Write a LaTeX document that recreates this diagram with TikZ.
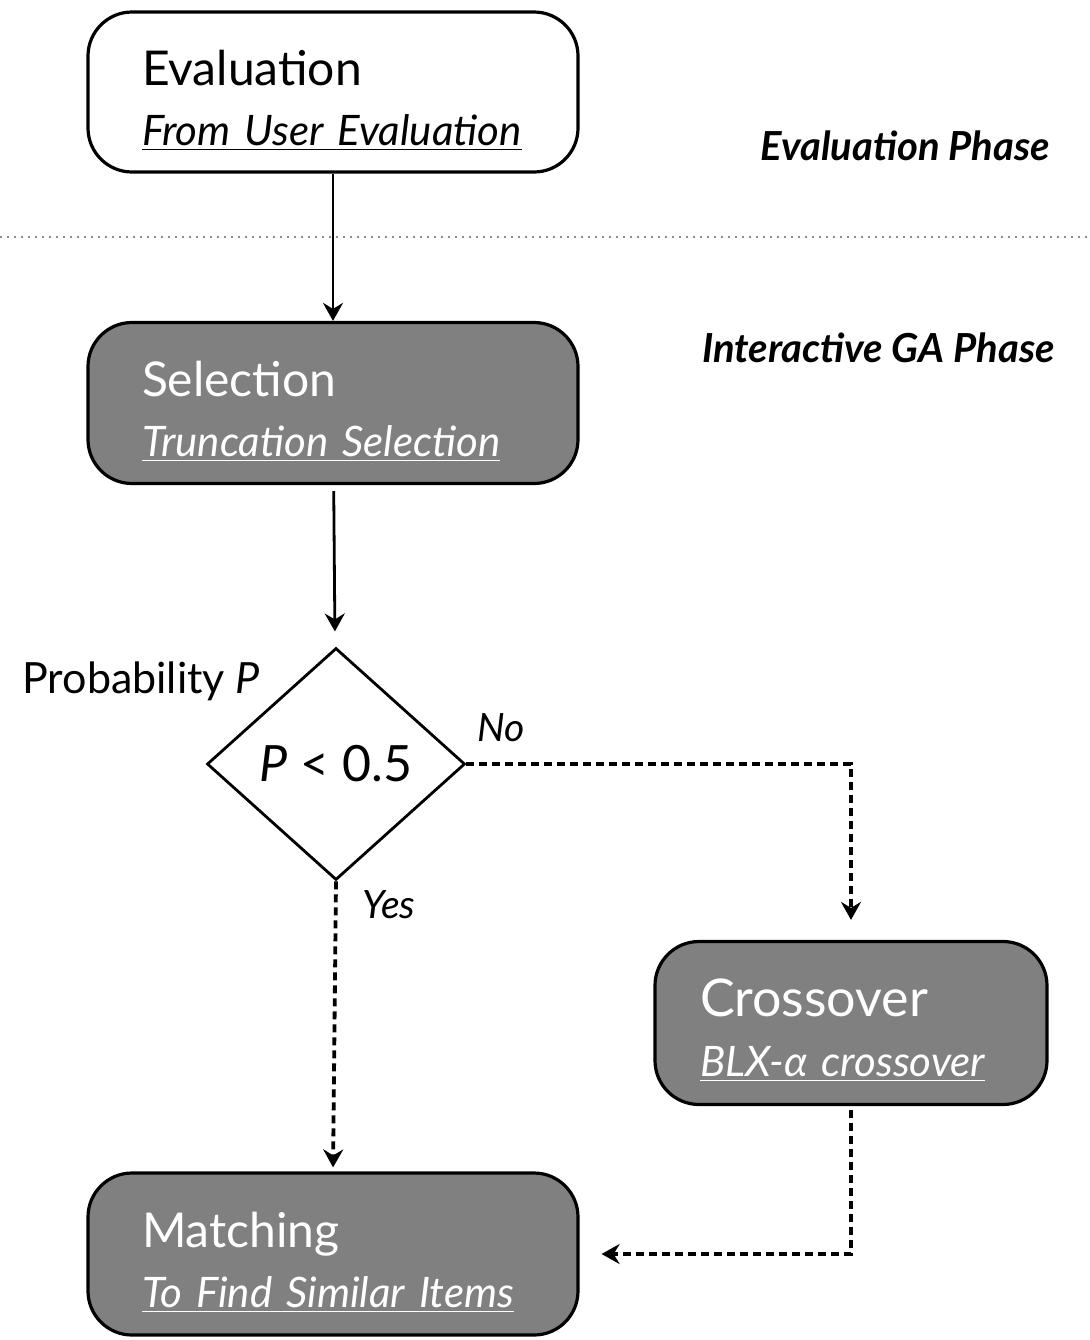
\documentclass[tikz,border=0pt]{standalone}
\usepackage{fontspec}
\setmainfont{Lato}
\usetikzlibrary{arrows.meta,positioning,shapes.geometric}
\definecolor{sgray}{HTML}{808080}
\definecolor{sepgray}{HTML}{8C8C8C}
\tikzset{
  % Rounded stage box, title plus underlined italic subtitle.
  stage/.style  = {rectangle, rounded corners=22pt, draw=black, line width=1.6pt, fill=#1,
                   align=left, inner ysep=0pt, font=\fontsize{21}{30}\selectfont},
  stage/.default = white,
  dark/.style   = {stage=sgray, text=white},
  test/.style   = {diamond, draw=black, line width=1.4pt, fill=white, inner sep=0pt,
                   minimum width=129pt, minimum height=116pt, font=\fontsize{25}{28}\selectfont},
  flow/.style   = {-{Stealth[length=9pt,width=10pt,inset=3pt]}, line width=1.4pt},
  dflow/.style  = {flow, line width=1.9pt, dash pattern=on 4pt off 2.5pt},
  phase/.style  = {font=\fontsize{20}{22}\selectfont\bfseries\itshape, anchor=base east, inner sep=0pt},
  lbl/.style    = {font=\fontsize{21.5}{24}\selectfont, anchor=base west, inner sep=0pt},
  branch/.style = {font=\fontsize{19.5}{22}\selectfont\itshape, anchor=base west, inner sep=0pt},
  sep/.style    = {line width=1pt, sepgray, dash pattern=on 1pt off 2.5pt},
}
\newcommand{\ttl}[1]{{\fontsize{24}{30}\selectfont\rule{0pt}{26pt}#1}}
\newcommand{\sub}[1]{\textit{\underline{#1}}}

\begin{document}
\begin{tikzpicture}[x=0.5pt, y=-0.5pt]
\useasboundingbox (0,0) rectangle (1089,1340);
% --- phase divider -----------------------------------------------------
\draw[sep] (0,237) -- (1089,237);
\node[phase] (ep) at (1050,160) {Evaluation Phase};
\node[phase] (gp) at (1055,362) {Interactive GA Phase};

% --- stages --------------------------------------------------------------
\node[stage, minimum width=245pt, minimum height=80pt, inner xsep=27pt, text width=191pt]
  (eval) at (333,92) {\ttl{Evaluation}\\\sub{From User Evaluation}};
\node[dark, minimum width=245pt, minimum height=80.5pt, inner xsep=27pt, text width=191pt]
  (sel) at (333,403) {\ttl{Selection}\\\sub{Truncation Selection}};
\node[test] (dec) at (336,764) {\textit{P} < 0.5};
\node[dark, minimum width=196pt, minimum height=81.5pt, inner xsep=22.5pt, text width=151pt]
  (cross) at (851,1023) {{\fontsize{26}{30}\selectfont\rule{0pt}{26pt}Crossover}\\\sub{BLX-α crossover}};
\node[dark, minimum width=245pt, minimum height=81pt, inner xsep=27pt, text width=191pt]
  (match) at (333,1254) {\ttl{Matching}\\\sub{To Find Similar Items}};

% --- labels round the test -------------------------------------------------
\node[lbl] (prob) at (22,693) {Probability \textit{P}};
\node[branch] (no) at (477,741) {No};
\node[branch] (yes) at (362,918) {Yes};

% --- connectors --------------------------------------------------------------
\draw[flow] (eval) -- (sel);
\draw[flow, shorten <=3pt, shorten >=8pt] (sel) -- (dec);
\draw[dflow, shorten >=10pt] (dec.east) -| (cross.north);
\draw[dflow, shorten >=2pt] (dec.south) -- (match.north);
\draw[dflow, shorten <=2pt, shorten >=11pt] (cross.south) |- (match.east);
\end{tikzpicture}
\end{document}
